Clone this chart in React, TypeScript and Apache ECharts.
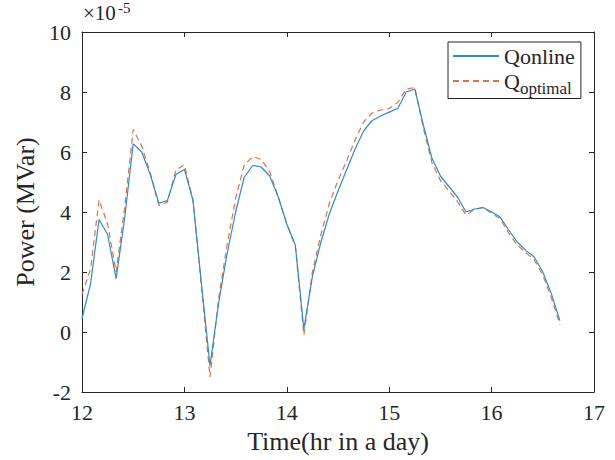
import React, { useEffect, useRef } from "react";
import * as echarts from "echarts";

// time in hours (5-minute samples)
const times = [
  12.0, 12.0833, 12.1667, 12.25, 12.3333, 12.4167, 12.5, 12.5833, 12.6667, 12.75, 12.8333, 12.9167,
  13.0, 13.0833, 13.1667, 13.25, 13.3333, 13.4167, 13.5, 13.5833, 13.6667, 13.75, 13.8333, 13.9167,
  14.0, 14.0833, 14.1667, 14.25, 14.3333, 14.4167, 14.5, 14.5833, 14.6667, 14.75, 14.8333, 14.9167,
  15.0, 15.0833, 15.1667, 15.25, 15.3333, 15.4167, 15.5, 15.5833, 15.6667, 15.75, 15.8333, 15.9167,
  16.0, 16.0833, 16.1667, 16.25, 16.3333, 16.4167, 16.5, 16.5833, 16.6667,
];

// values in units of 1e-5 MVar
const qOnline = [
  0.45, 1.6, 3.75, 3.25, 1.78, 3.8, 6.27, 6.0, 5.25, 4.3, 4.38, 5.25,
  5.42, 4.4, 1.6, -1.12, 0.95, 2.6, 4.0, 5.15, 5.55, 5.5, 5.2, 4.5,
  3.6, 2.9, 0.1, 1.85, 3.0, 3.95, 4.7, 5.4, 6.1, 6.7, 7.05, 7.2,
  7.33, 7.45, 8.0, 8.1, 6.9, 5.8, 5.2, 4.85, 4.5, 4.0, 4.1, 4.15,
  4.0, 3.83, 3.4, 3.0, 2.72, 2.5, 2.0, 1.28, 0.38,
];

const qOptimal = [
  1.25, 2.1, 4.4, 3.6, 2.0, 4.15, 6.75, 6.2, 5.3, 4.22, 4.33, 5.4,
  5.57, 4.4, 1.5, -1.5, 1.1, 2.9, 4.45, 5.55, 5.85, 5.75, 5.35, 4.5,
  3.6, 2.85, -0.1, 2.0, 3.25, 4.3, 5.05, 5.7, 6.4, 7.0, 7.3, 7.4,
  7.45, 7.65, 8.1, 8.15, 6.8, 5.65, 5.05, 4.7, 4.35, 3.9, 4.08, 4.15,
  3.95, 3.78, 3.3, 2.9, 2.65, 2.4, 1.9, 1.15, 0.25,
];

const xTicks = { min: 12, max: 17, interval: 1 };
const yTicks = { min: -2, max: 10, interval: 2 };

const FONT = "Liberation Serif";
const INK = "#262626";
const BLUE = "#2f8cc8";
const RED = "#df7444";

export default function App() {
  const ref = useRef<HTMLDivElement>(null);

  useEffect(() => {
    if (!ref.current) return;
    const chart = echarts.init(ref.current, undefined, { renderer: "svg" });

    const axisLine = { show: true, onZero: false, lineStyle: { color: INK, width: 1 } };
    const tick = { show: true, inside: true, length: 5, lineStyle: { color: INK, width: 1 } };
    const label = { fontFamily: FONT, fontSize: 22, color: INK };

    const online = times.map((t, i) => [t, qOnline[i]]);
    const optimal = times.map((t, i) => [t, qOptimal[i]]);

    chart.setOption({
      animation: false,
      backgroundColor: "#ffffff",
      textStyle: { fontFamily: FONT },
      grid: { left: 82, top: 32, width: 512, height: 360, containLabel: false },
      xAxis: [
        {
          type: "value",
          position: "bottom",
          ...xTicks,
          axisLine,
          axisTick: tick,
          splitLine: { show: false },
          axisLabel: { ...label, margin: 9 },
          name: "Time(hr in a day)",
          nameLocation: "middle",
          nameGap: 36,
          nameTextStyle: { fontFamily: FONT, fontSize: 26, color: INK },
        },
        {
          type: "value",
          position: "top",
          ...xTicks,
          axisLine,
          axisTick: tick,
          splitLine: { show: false },
          axisLabel: { show: false },
        },
      ],
      yAxis: [
        {
          type: "value",
          position: "left",
          ...yTicks,
          axisLine,
          axisTick: tick,
          splitLine: { show: false },
          axisLabel: { ...label, margin: 11 },
          name: "Power (MVar)",
          nameLocation: "middle",
          nameGap: 40,
          nameRotate: 90,
          nameTextStyle: { fontFamily: FONT, fontSize: 26, color: INK },
        },
        {
          type: "value",
          position: "right",
          ...yTicks,
          axisLine,
          axisTick: tick,
          splitLine: { show: false },
          axisLabel: { show: false },
        },
      ],
      legend: {
        orient: "vertical",
        left: 448,
        top: 42,
        itemWidth: 46,
        itemHeight: 14,
        itemGap: 3,
        padding: [3, 6, 2, 4],
        borderColor: INK,
        borderWidth: 1,
        backgroundColor: "#ffffff",
        itemStyle: { opacity: 0 },
        data: ["Qonline", "Qoptimal"],
        formatter: (name: string) =>
          name === "Qoptimal" ? "{q|Q}{s|optimal}" : "{q|Qonline}",
        textStyle: {
          fontFamily: FONT,
          color: INK,
          rich: {
            q: { fontFamily: FONT, fontSize: 22, color: INK },
            s: {
              fontFamily: FONT,
              fontSize: 17,
              color: INK,
              verticalAlign: "bottom",
              padding: [14, 0, 0, 0],
            },
          },
        },
      },
      graphic: [
        {
          type: "text",
          left: 83,
          top: 2,
          style: { text: "×10", fontFamily: FONT, fontSize: 21, fill: INK },
        },
        {
          type: "text",
          left: 118,
          top: 0,
          style: { text: "-5", fontFamily: FONT, fontSize: 15, fill: INK },
        },
      ],
      series: [
        {
          name: "Qonline",
          type: "line",
          xAxisIndex: 0,
          yAxisIndex: 0,
          data: online,
          symbol: "none",
          showSymbol: false,
          color: BLUE,
          lineStyle: { color: BLUE, width: 1.2, type: "solid" },
          z: 3,
        },
        {
          name: "Qoptimal",
          type: "line",
          xAxisIndex: 0,
          yAxisIndex: 0,
          data: optimal,
          symbol: "none",
          showSymbol: false,
          color: RED,
          lineStyle: { color: RED, width: 1.2, type: [6, 4] },
          z: 2,
        },
      ],
    });

    return () => chart.dispose();
  }, []);

  return (
    <div
      ref={ref}
      style={{ position: "fixed", left: 0, top: 0, width: 615, height: 460, background: "#fff" }}
    />
  );
}
